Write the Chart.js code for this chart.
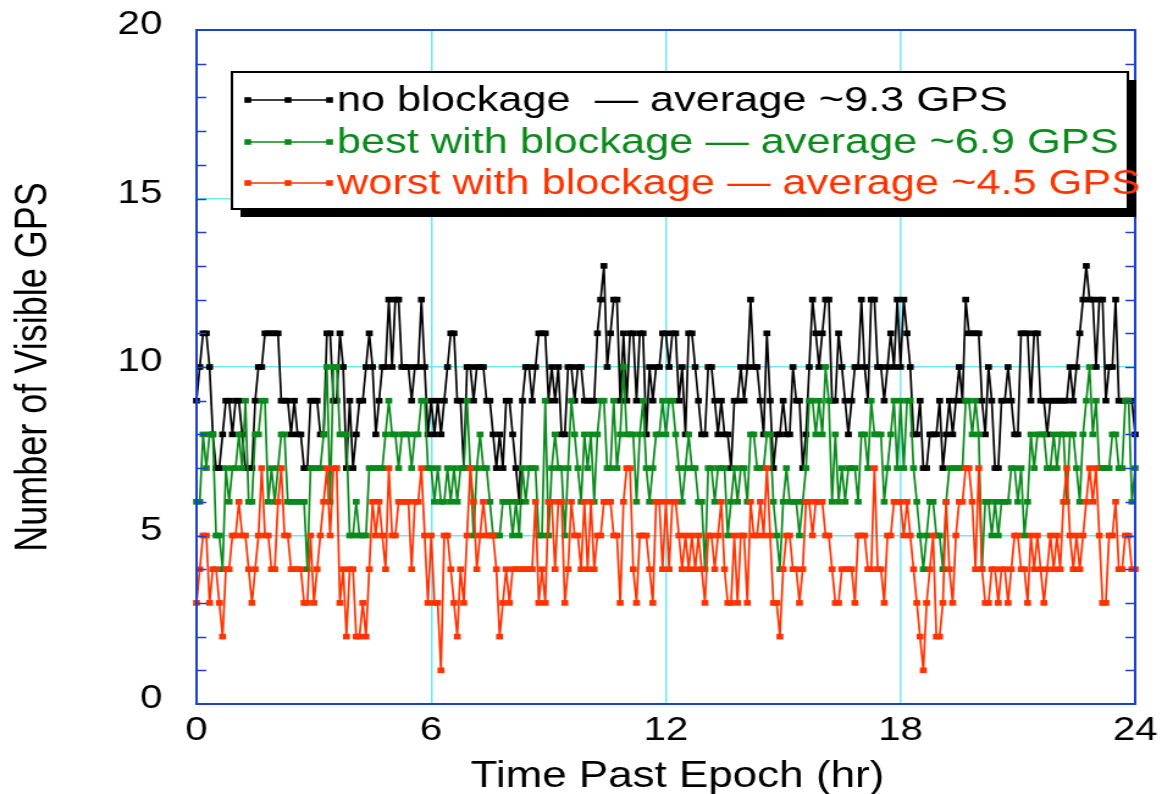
<!DOCTYPE html>
<html>
<head>
<meta charset="utf-8">
<script src="https://cdn.jsdelivr.net/npm/chart.js@4"></script>
<style>
  html, body { margin: 0; padding: 0; background: #fff; overflow: hidden; }
  /* the reference is stretched sideways, so the chart is drawn narrow and widened */
  #wrap { width: 952px; height: 794px; transform: scaleX(1.2206); transform-origin: 0 0; }
  #gpsChart { display: block; }
</style>
</head>
<body>
<div id="wrap"><canvas id="gpsChart" width="952" height="794" style="width:952px;height:794px"></canvas></div>
<script>
// visible GPS count every 5 minutes, 0 - 24 hr
const noBlockage = [
  9,10,11,11,10,8,7,7,8,9,9,8,9,9,8,7,7,7,9,10,10,11,11,11,
  11,11,9,9,9,8,9,8,8,7,7,9,9,9,8,8,11,11,9,9,11,10,7,9,
  7,8,9,9,10,11,10,8,9,10,10,12,10,12,12,10,10,10,9,10,10,12,10,8,
  9,8,9,8,9,10,11,11,9,9,7,10,10,9,10,10,10,9,9,8,7,8,7,9,
  9,8,7,6,9,10,10,9,10,11,11,11,9,10,9,10,8,8,10,10,9,10,10,9,
  9,9,9,11,12,13,10,11,12,12,9,11,9,11,11,9,11,11,8,10,9,10,10,11,
  11,10,11,11,9,10,8,11,11,10,9,8,8,10,10,9,8,9,8,8,7,9,9,10,
  9,10,12,10,10,9,8,11,9,7,8,8,9,8,8,10,9,9,7,8,10,12,11,10,
  11,12,12,9,9,11,10,9,8,9,10,10,12,10,9,12,12,10,10,9,10,11,10,12,
  10,12,11,10,8,8,9,7,7,8,8,8,9,7,8,9,8,9,10,9,12,11,11,11,
  11,9,8,10,9,7,7,9,9,10,9,8,8,11,11,11,9,11,11,9,9,8,9,9,
  9,9,9,9,10,9,10,11,12,13,12,12,10,12,12,9,10,10,12,9,9,9,9,9,8
];
const bestBlockage = [
  6,6,8,7,8,8,5,5,4,7,6,7,7,8,7,9,6,6,8,8,9,9,6,7,
  6,7,8,8,6,6,6,6,6,6,4,7,7,7,7,8,10,6,10,10,8,8,8,5,
  5,6,5,5,5,7,7,7,7,7,8,9,8,8,7,8,8,8,7,8,8,9,9,7,
  7,6,7,6,6,7,6,7,6,7,7,9,7,5,7,8,7,7,6,5,5,5,6,6,
  6,5,6,5,7,6,7,7,7,5,5,9,5,7,8,7,7,5,7,9,8,7,6,8,
  7,8,6,8,9,9,7,7,9,7,8,10,8,8,8,6,8,9,7,6,7,8,8,9,
  8,9,9,8,7,6,7,8,7,7,6,6,4,7,7,6,7,7,7,5,6,7,6,7,
  7,6,8,8,7,7,7,8,8,6,5,4,6,7,6,6,6,5,6,7,9,9,8,9,
  8,10,9,6,8,6,7,6,7,7,7,6,8,8,7,9,8,8,8,6,7,8,9,7,
  9,7,9,9,7,6,5,4,5,6,6,5,5,4,6,7,7,7,7,7,9,9,8,9,
  8,4,6,6,5,6,5,6,6,6,7,7,6,7,5,6,8,7,8,8,8,7,7,8,
  7,8,8,6,8,8,7,6,8,9,10,8,9,7,7,7,7,8,8,7,7,9,9,6,7
];
const worstBlockage = [
  3,4,5,5,3,4,4,3,2,4,4,5,5,6,5,5,4,3,4,5,7,5,5,4,
  4,6,7,5,5,4,4,4,4,3,3,5,3,4,5,6,7,5,7,7,3,4,2,4,
  4,2,2,3,2,4,6,5,6,5,4,7,5,5,6,6,6,6,4,6,6,7,5,3,
  5,3,3,1,5,5,4,3,2,4,3,5,7,6,4,5,6,5,5,5,4,2,3,4,
  3,4,4,4,4,4,4,4,6,3,4,3,6,6,4,6,6,3,4,6,5,5,4,6,
  4,6,4,5,5,6,6,6,5,5,3,6,7,7,4,3,5,5,5,4,3,6,6,4,
  6,4,6,6,5,4,5,4,5,4,5,4,3,5,5,4,5,6,4,3,3,5,3,5,
  5,3,6,5,5,6,5,7,5,3,3,2,4,5,5,4,4,3,4,6,6,5,6,6,
  6,5,5,4,3,3,4,4,4,4,3,5,5,5,4,4,7,4,4,3,5,5,6,6,
  6,5,6,5,4,3,2,1,3,4,5,2,2,3,6,4,3,5,6,6,7,7,6,4,
  7,4,3,3,4,4,3,4,4,3,4,5,5,4,4,3,5,4,5,4,3,4,5,4,
  5,4,6,7,5,4,5,4,5,6,7,6,7,5,3,3,5,5,6,4,4,5,5,4,4
];
const seriesNames = [
  'no blockage  \u2014 average ~9.3 GPS',
  'best with blockage \u2014 average ~6.9 GPS',
  'worst with blockage \u2014 average ~4.5 GPS'
];
const seriesColors = ['#000000', '#0b8a1c', '#ff3300'];
const xTicks = [0, 6, 12, 18, 24];
const yTicks = [0, 5, 10, 15, 20];
const xTitle = 'Time Past Epoch (hr)';

const STEP_HR = 5 / 60;
const FONT = "'Liberation Sans', Arial, Helvetica, sans-serif";
const AXIS_BLUE = '#1c3fd6';
const GRID_CYAN = '#6ee8fb';

function toPoints(values) {
    return values.map((v, i) => ({ x: i * STEP_HR, y: v }));
}

function makeDataset(values, i) {
    return {
        label: seriesNames[i],
        data: toPoints(values),
        borderColor: seriesColors[i],
        backgroundColor: seriesColors[i],
        borderWidth: 1.7,
        pointStyle: 'rect',
        pointRadius: 4,
        pointBorderWidth: 0,
        pointBackgroundColor: seriesColors[i],
        tension: 0,
        clip: false,
        order: 3 - i
    };
}

// blue frame, the small inward ticks and the x axis title
const framePlugin = {
    id: 'frame',
    afterDatasetsDraw(chart) {
        const { ctx, chartArea: a, scales } = chart;
        ctx.save();
        ctx.strokeStyle = AXIS_BLUE;
        ctx.lineWidth = 1.5;
        ctx.beginPath();
        for (let v = 1; v < 20; v++) {
            const y = Math.round(scales.y.getPixelForValue(v)) + 0.5;
            ctx.moveTo(a.left, y); ctx.lineTo(a.left + 8, y);
            ctx.moveTo(a.right, y); ctx.lineTo(a.right - 8, y);
        }
        ctx.stroke();
        ctx.lineWidth = 2;
        ctx.strokeRect(a.left, a.top, a.right - a.left, a.bottom - a.top);

        ctx.fillStyle = '#000';
        ctx.font = '36px ' + FONT;
        ctx.textAlign = 'center';
        ctx.textBaseline = 'middle';
        ctx.fillText(xTitle, 555, 777);
        ctx.restore();
    }
};

// boxed legend with a drop shadow
const legendPlugin = {
    id: 'boxLegend',
    afterDraw(chart) {
        const ctx = chart.ctx;
        const box = { left: 190, top: 72, right: 924, bottom: 209 };
        const w = box.right - box.left, h = box.bottom - box.top;
        ctx.save();
        ctx.fillStyle = '#000';
        ctx.fillRect(box.left + 7, box.top + 8, w, h);
        ctx.fillStyle = '#fff';
        ctx.fillRect(box.left, box.top, w, h);
        ctx.strokeStyle = '#000';
        ctx.lineWidth = 2;
        ctx.strokeRect(box.left, box.top, w, h);

        const rows = [100, 142, 183];
        ctx.font = '35.5px ' + FONT;
        ctx.textBaseline = 'middle';
        seriesNames.forEach((name, i) => {
            const y = rows[i];
            ctx.strokeStyle = seriesColors[i];
            ctx.fillStyle = seriesColors[i];
            ctx.lineWidth = 1.7;
            ctx.beginPath();
            ctx.moveTo(203, y); ctx.lineTo(270, y);
            ctx.stroke();
            [203, 236, 270].forEach(x => ctx.fillRect(x - 2.8, y - 2.8, 5.6, 5.6));
            ctx.fillText(name, 276, y + 1);
        });
        ctx.restore();
    }
};

new Chart(document.getElementById('gpsChart'), {
    type: 'line',
    data: {
        datasets: [
            makeDataset(noBlockage, 0),
            makeDataset(bestBlockage, 1),
            makeDataset(worstBlockage, 2)
        ]
    },
    options: {
        responsive: false,
        animation: false,
        devicePixelRatio: 1,
        layout: { padding: { top: 30, right: 22, left: 0, bottom: 0 } },
        plugins: {
            legend: { display: false },
            tooltip: { enabled: false }
        },
        scales: {
            x: {
                type: 'linear',
                min: 0,
                max: 24,
                afterFit: s => { s.height = 90; s.paddingLeft = 0; s.paddingRight = 0; },
                afterBuildTicks: s => { s.ticks = xTicks.map(v => ({ value: v })); },
                grid: {
                    drawTicks: false,
                    lineWidth: 1.5,
                    color: c => (c.tick && (c.tick.value === 0 || c.tick.value === 24)) ? 'rgba(0,0,0,0)' : GRID_CYAN
                },
                border: { display: false },
                ticks: {
                    padding: 7,
                    color: '#000',
                    font: { family: FONT, size: 33 },
                    maxRotation: 0,
                    autoSkip: false
                },
                title: { display: false }
            },
            y: {
                min: 0,
                max: 20,
                afterFit: s => { s.width = 161; s.paddingTop = 0; s.paddingBottom = 0; },
                afterBuildTicks: s => { s.ticks = yTicks.map(v => ({ value: v })); },
                grid: {
                    drawTicks: false,
                    lineWidth: 1.5,
                    color: c => (c.tick && (c.tick.value === 0 || c.tick.value === 20)) ? 'rgba(0,0,0,0)' : GRID_CYAN
                },
                border: { display: false },
                ticks: {
                    padding: 28,
                    labelOffset: -5,
                    color: '#000',
                    font: { family: FONT, size: 33 }
                },
                title: {
                    display: true,
                    text: 'Number of Visible GPS',
                    color: '#000',
                    font: { family: FONT, size: 36, lineHeight: 1.2 },
                    padding: { top: 6, bottom: 0 }
                }
            }
        }
    },
    plugins: [framePlugin, legendPlugin]
});
</script>
</body>
</html>
